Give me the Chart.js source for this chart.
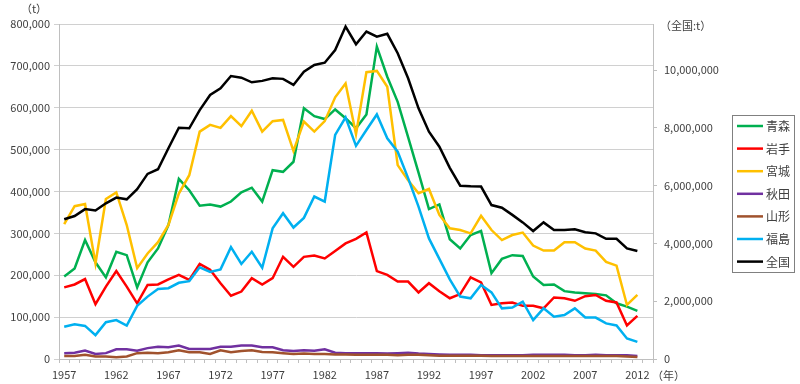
<!DOCTYPE html>
<html><head><meta charset="utf-8">
<script src="https://cdn.jsdelivr.net/npm/chart.js@4.4.1/dist/chart.umd.min.js"></script>
<style>html,body{margin:0;padding:0;background:#fff}</style>
</head><body>
<canvas id="c" width="800" height="384"></canvas>
<script>
const years = [1957,1958,1959,1960,1961,1962,1963,1964,1965,1966,1967,1968,1969,1970,1971,1972,1973,1974,1975,1976,1977,1978,1979,1980,1981,1982,1983,1984,1985,1986,1987,1988,1989,1990,1991,1992,1993,1994,1995,1996,1997,1998,1999,2000,2001,2002,2003,2004,2005,2006,2007,2008,2009,2010,2011,2012];
const seriesNames = ['青森','岩手','宮城','秋田','山形','福島','全国'];
const aomori = [197000,216000,284000,231000,195000,256000,248000,171000,231000,264000,
  320000,430000,403000,366000,369000,364000,376000,398000,409000,376000,
  451000,447000,471000,599000,580000,573000,596000,575000,551000,584000,
  746000,674000,614000,530000,445000,358000,369000,286000,264000,296000,
  306000,205000,239000,248000,246000,197000,177000,178000,162000,159000,
  157000,155000,152000,133000,125000,115000];
const iwate = [171000,178000,191000,131000,173000,210000,173000,133000,177000,178000,
  190000,201000,189000,227000,213000,181000,151000,161000,193000,178000,
  193000,244000,220000,244000,247000,240000,258000,276000,287000,302000,
  210000,201000,185000,185000,159000,181000,162000,145000,155000,195000,
  183000,129000,133000,135000,127000,127000,121000,147000,145000,139000,
  150000,153000,139000,135000,80000,103000];
const miyagi = [322000,365000,370000,228000,382000,398000,320000,217000,252000,279000,
  320000,395000,439000,543000,559000,552000,580000,556000,593000,543000,
  568000,571000,497000,567000,543000,568000,625000,658000,537000,685000,
  688000,650000,463000,427000,396000,406000,344000,312000,308000,300000,
  342000,308000,284000,296000,302000,271000,259000,259000,279000,279000,
  264000,259000,232000,223000,129000,153000];
const akita = [14000,15000,20000,12000,14000,23000,23000,20000,26000,29000,
  28000,32000,24000,24000,24000,29000,29000,32000,32000,28000,
  28000,21000,19000,21000,20000,23000,15000,14000,14000,14000,
  14000,13000,14000,15000,13000,12000,11000,10000,10000,10000,
  9000,9000,9000,9000,9000,10000,10000,10000,10000,9000,
  9000,10000,9000,9000,9000,7000];
const yamagata = [7000,7000,10000,6000,6000,4000,6000,14000,15000,14000,
  16000,21000,16000,16000,12000,21000,16000,19000,21000,17000,
  16000,14000,12000,13000,12000,12000,11000,11000,10000,10000,
  10000,10000,9000,10000,10000,9000,8000,8000,8000,8000,
  8000,7000,7000,7000,7000,7000,7000,7000,7000,7000,
  7000,7000,7000,7000,6000,5000];
const fukushima = [77000,83000,79000,57000,88000,93000,80000,127000,149000,167000,
  169000,182000,186000,219000,208000,214000,267000,227000,256000,218000,
  312000,348000,314000,337000,388000,376000,535000,577000,509000,547000,
  584000,527000,495000,432000,364000,288000,239000,190000,149000,145000,
  177000,159000,121000,123000,137000,93000,121000,101000,105000,121000,
  99000,99000,85000,80000,49000,41000];
const zenkoku = [4840000,4950000,5190000,5140000,5390000,5590000,5530000,5880000,6410000,6570000,
  7300000,8010000,7990000,8620000,9140000,9370000,9800000,9740000,9580000,9630000,
  9720000,9700000,9490000,9950000,10180000,10260000,10700000,11510000,10900000,11340000,
  11160000,11260000,10590000,9720000,8680000,7870000,7350000,6620000,6000000,5980000,
  5970000,5330000,5240000,4990000,4730000,4430000,4730000,4470000,4470000,4490000,
  4390000,4350000,4160000,4160000,3830000,3740000];
const leftTickValues = [0,100000,200000,300000,400000,500000,600000,700000,800000];
const rightTickValues = [0,2000000,4000000,6000000,8000000,10000000];
const rightMax = 11600000;
const colors = ['#00B050','#FF0000','#FFC000','#7030A0','#A0522D','#00B0F0','#000000'];

const labels = years.map(String).concat(['']);
const FONT = "'Noto Sans CJK JP','Noto Sans',sans-serif";
const TXT = '#404040';
const allData = [aomori, iwate, miyagi, akita, yamagata, fukushima, zenkoku];

const datasets = allData.map((d, i) => ({
  label: seriesNames[i],
  data: d,
  borderColor: colors[i],
  backgroundColor: colors[i],
  borderWidth: 2.5,
  pointRadius: 0,
  fill: false,
  tension: 0,
  yAxisID: i === 6 ? 'y1' : 'y',
  order: 6 - i
}));

const extras = {
  id: 'extras',
  afterDraw(chart) {
    const ctx = chart.ctx;
    ctx.save();
    ctx.font = '11px ' + FONT;
    ctx.fillStyle = TXT;
    ctx.textBaseline = 'middle';
    ctx.textAlign = 'center';
    ctx.fillText('（t）', 34, 9);
    ctx.textAlign = 'left';
    ctx.fillText('（全国:t）', 660, 26);
    ctx.fillText('（年）', 652, 376);
    // legend
    const bx = 732, by = 115, bw = 63, bh = 158;
    ctx.fillStyle = '#fff';
    ctx.fillRect(bx, by, bw, bh);
    ctx.strokeStyle = '#808080';
    ctx.lineWidth = 1;
    ctx.strokeRect(bx + 0.5, by + 0.5, bw - 1, bh - 1);
    ctx.font = '12px ' + FONT;
    chart.data.datasets.forEach((ds, i) => {
      const y = 126 + i * 22.6;
      ctx.strokeStyle = ds.borderColor;
      ctx.lineWidth = 2.5;
      ctx.beginPath();
      ctx.moveTo(737, y);
      ctx.lineTo(763, y);
      ctx.stroke();
      ctx.fillStyle = TXT;
      ctx.textAlign = 'left';
      ctx.fillText(ds.label, 766, y + 0.5);
    });
    ctx.restore();
  }
};

new Chart(document.getElementById('c'), {
  type: 'line',
  data: { labels, datasets },
  options: {
    responsive: false,
    animation: false,
    devicePixelRatio: 1,
    layout: { padding: { top: 24, left: 0, right: 0, bottom: 0 } },
    plugins: { legend: { display: false }, tooltip: { enabled: false } },
    scales: {
      x: {
        type: 'category',
        offset: true,
        grid: { offset: true, drawOnChartArea: false, tickLength: 4, color: '#bfbfbf' },
        border: { color: '#bfbfbf' },
        ticks: {
          autoSkip: false, maxRotation: 0, minRotation: 0, padding: 5,
          color: TXT, font: { family: FONT, size: 11 },
          callback: (v, i) => (i % 5 === 0 && i < years.length) ? String(years[i]) : ''
        },
        afterFit: s => { s.height = 25; }
      },
      y: {
        position: 'left',
        min: leftTickValues[0], max: leftTickValues[leftTickValues.length - 1],
        ticks: { padding: 4, color: TXT, font: { family: FONT, size: 11 },
          callback: v => Number(v).toLocaleString('en-US') },
        afterBuildTicks: s => { s.ticks = leftTickValues.map(v => ({ value: v })); },
        grid: { color: '#d0d0d0', tickLength: 5 },
        border: { color: '#bfbfbf' },
        afterFit: s => { s.width = 59; }
      },
      y1: {
        position: 'right',
        min: 0, max: rightMax,
        ticks: { padding: 7, color: TXT, font: { family: FONT, size: 11 },
          callback: v => Number(v).toLocaleString('en-US') },
        afterBuildTicks: s => { s.ticks = rightTickValues.map(v => ({ value: v })); },
        grid: { drawOnChartArea: false, tickLength: 4, color: '#bfbfbf' },
        border: { color: '#bfbfbf' },
        afterFit: s => { s.width = 147; }
      }
    }
  },
  plugins: [extras]
});
</script>
</body></html>
